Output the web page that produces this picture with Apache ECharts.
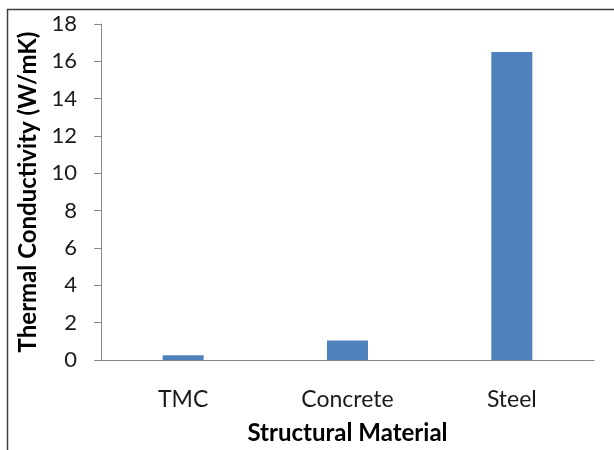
<!DOCTYPE html>
<html>
<head>
<meta charset="utf-8">
<script src="https://cdn.jsdelivr.net/npm/echarts@6/dist/echarts.min.js"></script>
<style>
  html, body { margin: 0; padding: 0; background: #fff; }
  #chart { width: 614px; height: 450px; }
</style>
</head>
<body>
<div id="chart"></div>
<script>
// Thermal conductivity of structural materials (W/mK)
const materials = ['TMC', 'Concrete', 'Steel'];
const conductivity = [0.25, 1.05, 16.5];

const FONT = 'Lato, "Open Sans", sans-serif';

const chart = echarts.init(document.getElementById('chart'), null, { renderer: 'canvas' });

chart.setOption({
  animation: false,
  backgroundColor: '#ffffff',
  graphic: [{
    type: 'rect',
    silent: true,
    shape: { x: 7.5, y: 9.5, width: 700, height: 500 },
    style: { fill: 'none', stroke: '#404040', lineWidth: 1.5 }
  }],
  grid: { left: 101, top: 24, right: 20, bottom: 90, containLabel: false },
  xAxis: {
    type: 'category',
    data: materials,
    name: 'Structural Material',
    nameLocation: 'middle',
    nameGap: 61,
    nameTextStyle: { fontFamily: FONT, fontSize: 24, fontWeight: 'bold', color: '#000' },
    axisLine: { lineStyle: { color: '#868686', width: 1 } },
    axisTick: { show: false },
    axisLabel: { fontFamily: FONT, fontSize: 23, color: '#1a1a1a', margin: 28 }
  },
  yAxis: {
    type: 'value',
    min: 0,
    max: 18,
    interval: 2,
    name: 'Thermal Conductivity (W/mK)',
    nameLocation: 'middle',
    nameGap: 60,
    nameRotate: 90,
    nameTextStyle: { fontFamily: FONT, fontSize: 24, fontWeight: 'bold', color: '#000' },
    axisLine: { show: true, lineStyle: { color: '#868686', width: 1 } },
    axisTick: { show: true, length: 7, lineStyle: { color: '#868686' } },
    splitLine: { show: false },
    axisLabel: { fontFamily: FONT, fontSize: 22, color: '#1a1a1a', margin: 24 }
  },
  series: [{
    type: 'bar',
    data: conductivity,
    barWidth: 41,
    itemStyle: { color: '#4F81BD' }
  }]
});
</script>
</body>
</html>
